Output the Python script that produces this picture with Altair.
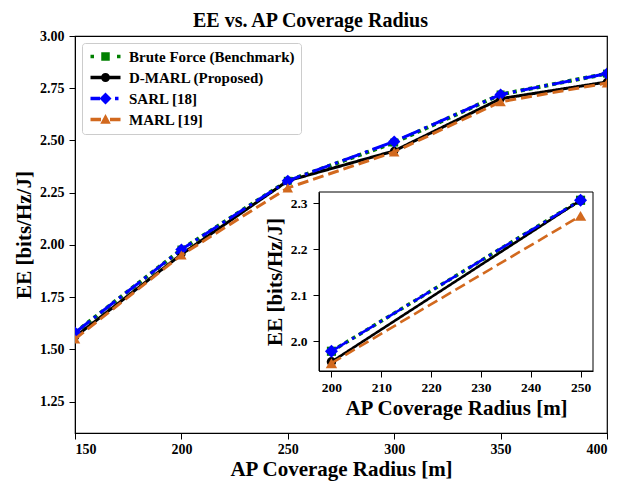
import altair as alt
import pandas as pd

# ---- data ----
radius = [150, 200, 250, 300, 350, 400]
brute_force = [1.58, 1.978, 2.307, 2.49, 2.72, 2.82]
d_marl = [1.56, 1.955, 2.307, 2.45, 2.70, 2.78]
sarl = [1.58, 1.978, 2.307, 2.495, 2.72, 2.82]
marl = [1.55, 1.952, 2.273, 2.445, 2.685, 2.775]

series_names = ["Brute Force (Benchmark)", "D-MARL (Proposed)", "SARL [18]", "MARL [19]"]
series_values = [brute_force, d_marl, sarl, marl]

x_ticks = [150, 200, 250, 300, 350, 400]
y_ticks = [1.25, 1.50, 1.75, 2.00, 2.25, 2.50, 2.75, 3.00]
inset_x_ticks = [200, 210, 220, 230, 240, 250]
inset_y_ticks = [2.0, 2.1, 2.2, 2.3]

# ---- styles ----
colors = ["#008000", "#000000", "#0000FF", "#D2691E"]
widths = [4, 3, 3, 3]
dashes = [[4, 4], [1, 0], [19, 5, 3, 5], [11, 5]]
shapes = ["square", "circle", "diamond", "triangle-up"]
sizes = [64, 70, 150, 110]
legend_paths = [
    "M -3 -0.35 L -2.3 -0.35 L -2.3 0.35 L -3 0.35 Z "
    "M -0.85 -0.85 L 0.85 -0.85 L 0.85 0.85 L -0.85 0.85 Z "
    "M 2.3 -0.35 L 3 -0.35 L 3 0.35 L 2.3 0.35 Z",
    "M -3 -0.35 L -0.8 -0.35 L -0.8 0.35 L -3 0.35 Z "
    "M 0.8 -0.35 L 3 -0.35 L 3 0.35 L 0.8 0.35 Z "
    "M -0.9 0 A 0.9 0.9 0 1 1 0.9 0 A 0.9 0.9 0 1 1 -0.9 0 Z",
    "M -3 -0.35 L -1.1 -0.35 L -1.1 0.35 L -3 0.35 Z "
    "M 0 -1.2 L 1.2 0 L 0 1.2 L -1.2 0 Z "
    "M 1.9 -0.35 L 2.6 -0.35 L 2.6 0.35 L 1.9 0.35 Z",
    "M -3 -0.35 L -0.9 -0.35 L -0.9 0.35 L -3 0.35 Z "
    "M 0 -1.1 L 1.05 0.85 L -1.05 0.85 Z "
    "M 0.9 -0.35 L 3 -0.35 L 3 0.35 L 0.9 0.35 Z",
]

FONT = "Liberation Serif"
W, H = 532, 397

main_x_domain = [150, 400]
main_y_domain = [1.1, 3.0]
inset_x_domain = [197.5, 252.5]
inset_y_domain = [1.935, 2.325]
inset_x_range = [244, 518]
inset_y_range = [335, 156]

df = pd.DataFrame({
    "radius": radius * len(series_names),
    "ee": sum(series_values, []),
    "series": [n for n in series_names for _ in radius],
})

x_main = alt.X("radius:Q",
               scale=alt.Scale(domain=main_x_domain, nice=False, zero=False),
               axis=alt.Axis(values=x_ticks, title="AP Coverage Radius [m]",
                             labelFontSize=14, titleFontSize=21, titlePadding=2,
                             tickSize=6, labelPadding=3))
y_main = alt.Y("ee:Q",
               scale=alt.Scale(domain=main_y_domain, nice=False, zero=False),
               axis=alt.Axis(values=y_ticks, format=".2f", title="EE [bits/Hz/J]",
                             labelFontSize=14, titleFontSize=21, titlePadding=5,
                             tickSize=6, labelPadding=5))


def inset_x(field):
    return alt.X(field,
                 scale=alt.Scale(domain=inset_x_domain, range=inset_x_range, nice=False, zero=False),
                 axis=alt.Axis(values=inset_x_ticks, title="AP Coverage Radius [m]", orient="bottom",
                               offset=-(H - inset_y_range[0]), labelFontSize=13.5, titleFontSize=21,
                               titlePadding=4, tickSize=6, labelPadding=3))


def inset_y(field):
    return alt.Y(field,
                 scale=alt.Scale(domain=inset_y_domain, range=inset_y_range, nice=False, zero=False),
                 axis=alt.Axis(values=inset_y_ticks, format=".1f", title="EE [bits/Hz/J]", orient="left",
                               offset=-inset_x_range[0], labelFontSize=13.5, titleFontSize=21,
                               titlePadding=5, tickSize=6, labelPadding=6))


main_layers = []
for name, c, w, d, s, sz in zip(series_names, colors, widths, dashes, shapes, sizes):
    base = alt.Chart(df).transform_filter(alt.datum.series == name)
    main_layers.append(base.mark_line(color=c, strokeWidth=w, strokeDash=d, clip=True)
                       .encode(x=x_main, y=y_main))
    main_layers.append(base.mark_point(shape=s, filled=True, size=sz, color=c, opacity=1, clip=True)
                       .encode(x=x_main, y=y_main))

legend_df = pd.DataFrame({"series": series_names,
                          "radius": [radius[0]] * len(series_names),
                          "ee": [v[0] for v in series_values]})
leg = alt.Legend(title=None, orient="top-left", offset=7, padding=6,
                 strokeColor="#cccccc", fillColor="white", cornerRadius=3,
                 labelFont=FONT, labelFontSize=15, labelFontWeight="bold", labelColor="black",
                 labelLimit=400,
                 symbolSize=100, symbolStrokeWidth=0, symbolOpacity=1,
                 symbolOffset=10, labelOffset=16, rowPadding=5)
legend_layer = alt.Chart(legend_df).mark_point(filled=True, opacity=0).encode(
    x=x_main, y=y_main,
    color=alt.Color("series:N", scale=alt.Scale(domain=series_names, range=colors), legend=leg),
    shape=alt.Shape("series:N", scale=alt.Scale(domain=series_names, range=legend_paths), legend=leg),
)
main_layers.append(legend_layer)
main = alt.layer(*main_layers)

inset_df = df[(df["radius"] >= 200) & (df["radius"] <= 250)]
frame_df = pd.DataFrame({"x0": [inset_x_domain[0]], "x1": [inset_x_domain[1]],
                         "y0": [inset_y_domain[0]], "y1": [inset_y_domain[1]]})
inset_layers = [
    alt.Chart(frame_df).mark_rect(fillOpacity=0, stroke="black", strokeWidth=1).encode(
        x=inset_x("x0:Q"), x2="x1:Q", y=inset_y("y0:Q"), y2="y1:Q",
    )
]
for name, c, w, d, s, sz in zip(series_names, colors, widths, dashes, shapes, sizes):
    base = alt.Chart(inset_df).transform_filter(alt.datum.series == name)
    inset_layers.append(base.mark_line(color=c, strokeWidth=w - 0.4, strokeDash=d)
                        .encode(x=inset_x("radius:Q"), y=inset_y("ee:Q")))
    inset_layers.append(base.mark_point(shape=s, filled=True, size=sz + 20, color=c, opacity=1)
                        .encode(x=inset_x("radius:Q"), y=inset_y("ee:Q")))
inset = alt.layer(*inset_layers)

chart = alt.layer(main, inset).resolve_scale(x="independent", y="independent").properties(
    width=W, height=H,
    title=alt.TitleParams("EE vs. AP Coverage Radius", font=FONT, fontSize=20, fontWeight="bold",
                          color="black", anchor="middle", frame="bounds", offset=-2),
    background="white",
    padding={"left": 5, "top": 3, "right": 5, "bottom": 4},
).configure_axis(
    labelFont=FONT, titleFont=FONT, labelFontWeight="bold", titleFontWeight="bold",
    labelColor="black", titleColor="black", domainColor="black", tickColor="black",
    grid=False,
).configure_view(stroke="black", strokeWidth=1.2)

chart.save("out.html", embed_options={"renderer": "svg", "actions": False})
